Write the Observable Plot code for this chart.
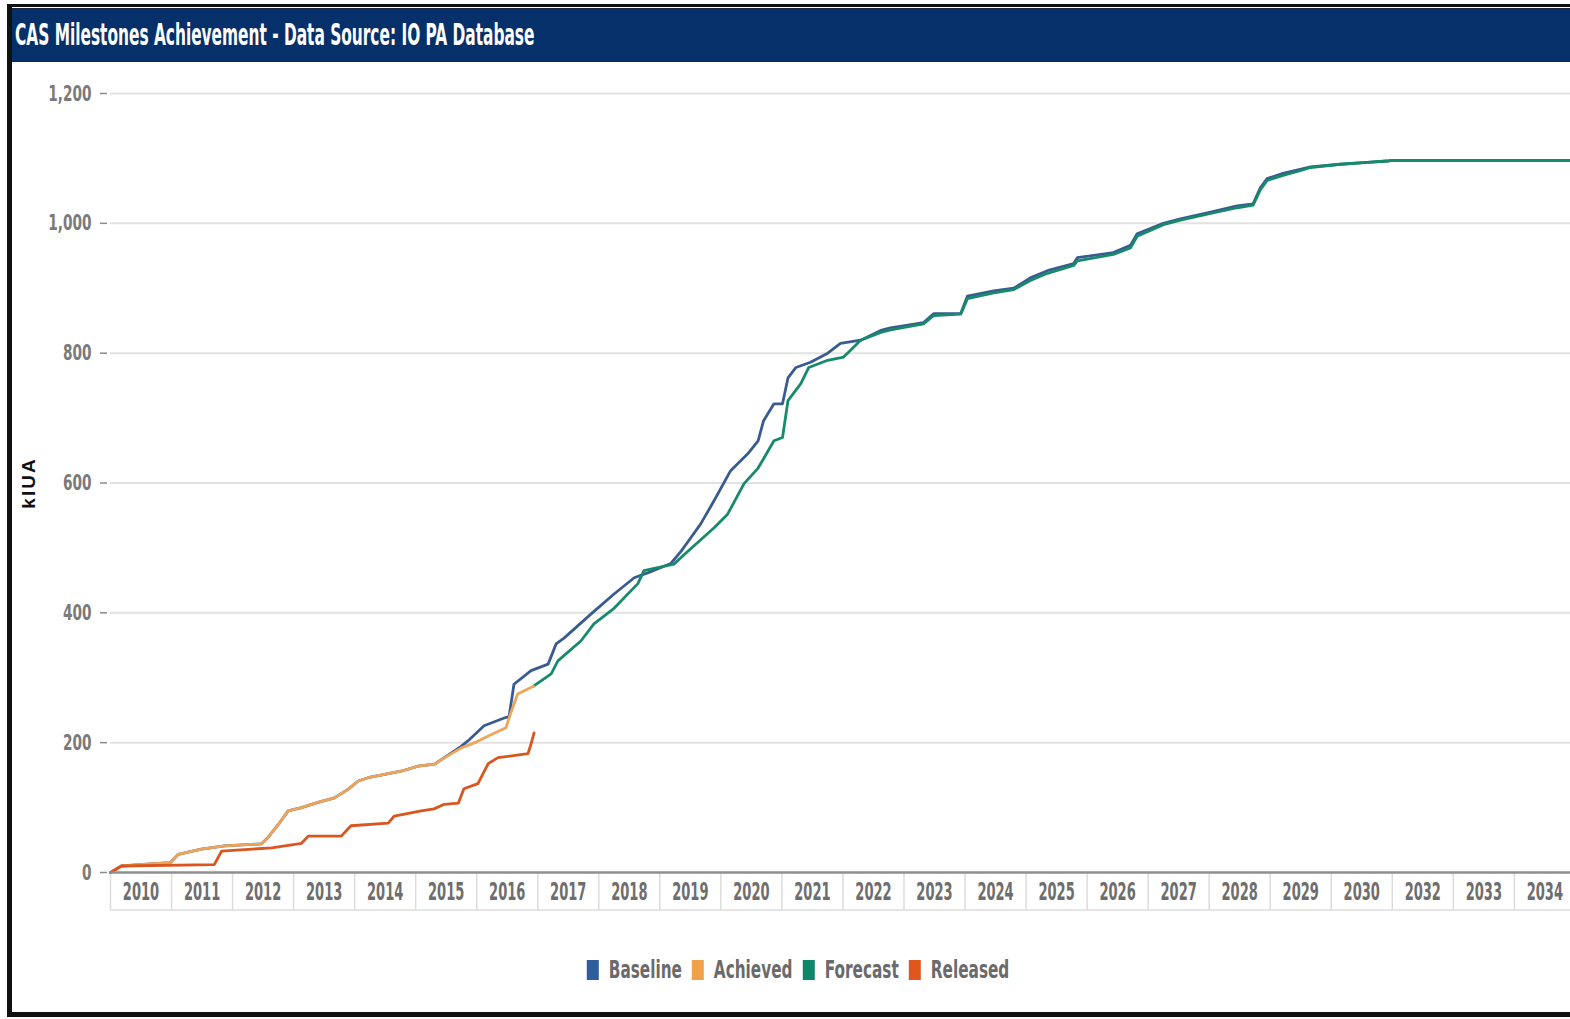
<!DOCTYPE html>
<html>
<head>
<meta charset="utf-8">
<script src="https://cdn.jsdelivr.net/npm/d3@7"></script>
<script src="https://cdn.jsdelivr.net/npm/@observablehq/plot@0.6"></script>
<style>
  html, body { margin: 0; padding: 0; background: #fff; overflow: hidden; width: 1570px; height: 1019px; }
  #frame { position: absolute; left: 7px; top: 4px; width: 1563px; height: 1013px; box-sizing: border-box;
           border-left: 5px solid #111; border-top: 3px solid #111; border-bottom: 5px solid #111; }
  #header { position: absolute; left: 12px; top: 8px; width: 1558px; height: 54px; background: #06306a;
            border-top: 1px solid #1b2540; border-bottom: 1px solid #1b2540; box-sizing: border-box; }
  #title { position: absolute; left: 3px; top: 0; line-height: 52px; color: #fff; font-weight: bold; font-size: 30px;
           font-family: "Liberation Sans Narrow", "DejaVu Sans Condensed", "Liberation Sans", sans-serif;
           white-space: nowrap; transform: scaleX(0.57); transform-origin: left center; display: inline-block; }
  #chart { position: absolute; left: 0; top: 62px; }
  #ylabel { position: absolute; left: 29px; top: 483px; transform: translate(-50%, -50%) rotate(-90deg);
            font: bold 19px "Liberation Sans", Arial, sans-serif; letter-spacing: 2px; color: #111; white-space: nowrap; }
  #legend { position: absolute; top: 955px; left: 798px; transform: translateX(-50%); display: flex; align-items: center;
            gap: 10px; font-family: "Liberation Sans Narrow", "DejaVu Sans Condensed", sans-serif; font-size: 25px; color: #6a6a6a; font-weight: bold; white-space: nowrap; }
  .item { display: flex; align-items: center; gap: 10px; }
  .sw { width: 12px; height: 20px; display: inline-block; }
  .lt { display: inline-block; overflow: visible; white-space: nowrap; }
  .lt span { display: inline-block; transform-origin: left center; }
</style>
</head>
<body>
<div id="frame"></div>
<div id="header"><span id="title">CAS Milestones Achievement - Data Source: IO PA Database</span></div>
<div id="chart"></div>
<div id="ylabel">kIUA</div>
<div id="legend"></div>
<script>
// ---- Data (decimal year, kIUA) ----
const yearLabels = [2010, 2011, 2012, 2013, 2014, 2015, 2016, 2017, 2018, 2019, 2020, 2021, 2022, 2023, 2024, 2025, 2026, 2027, 2028, 2029, 2030, 2032, 2033, 2034];
const yTicks = [0, 200, 400, 600, 800, 1000, 1200];
const seriesNames = ["Baseline", "Achieved", "Forecast", "Released"];
const seriesColors = ["#3a5b90", "#eea55a", "#168b6b", "#d9561f"];
const legendColors = ["#2f5c9c", "#f0a24a", "#0f876a", "#e0561c"];

const baseline = [
  [2010.00, 0], [2010.18, 10], [2010.60, 13], [2010.98, 15], [2011.11, 28], [2011.49, 36], [2011.87, 41],
  [2012.47, 44], [2012.58, 54], [2012.75, 74], [2012.91, 95], [2013.13, 100], [2013.40, 108], [2013.67, 115],
  [2013.89, 128], [2014.06, 141], [2014.22, 146], [2014.49, 151], [2014.76, 156], [2015.04, 164], [2015.31, 167],
  [2015.74, 194], [2015.86, 203], [2016.12, 226], [2016.45, 238], [2016.53, 240], [2016.61, 290], [2016.89, 311],
  [2017.17, 321], [2017.30, 352], [2017.43, 361], [2017.87, 398], [2018.25, 429], [2018.58, 454], [2018.81, 462],
  [2019.18, 476], [2019.35, 495], [2019.51, 516], [2019.67, 537], [2019.89, 573], [2020.16, 619], [2020.44, 645],
  [2020.61, 665], [2020.70, 696], [2020.87, 722], [2021.01, 722], [2021.10, 762], [2021.23, 778], [2021.47, 786],
  [2021.75, 800], [2021.96, 815], [2022.29, 820], [2022.62, 835], [2022.78, 839], [2023.32, 847], [2023.49, 861],
  [2023.93, 861], [2024.04, 888], [2024.47, 896], [2024.80, 900], [2025.07, 916], [2025.35, 927], [2025.78, 938],
  [2025.84, 947], [2026.43, 955], [2026.71, 966], [2026.82, 984], [2027.25, 1000], [2027.53, 1007], [2027.97, 1016],
  [2028.46, 1027], [2028.72, 1030], [2028.84, 1055], [2028.95, 1069], [2029.21, 1077], [2029.49, 1083], [2029.66, 1087],
  [2030.15, 1091], [2030.59, 1094], [2030.92, 1096], [2032.00, 1097], [2034.99, 1097]
];

const achieved = [
  [2010.00, 0], [2010.18, 10], [2010.60, 13], [2010.98, 15], [2011.11, 28], [2011.49, 36], [2011.87, 41],
  [2012.47, 44], [2012.58, 54], [2012.75, 74], [2012.91, 95], [2013.13, 100], [2013.40, 108], [2013.67, 115],
  [2013.89, 128], [2014.06, 141], [2014.22, 146], [2014.49, 151], [2014.76, 156], [2015.04, 164], [2015.31, 167],
  [2015.53, 180], [2015.75, 192], [2015.97, 200], [2016.18, 210], [2016.48, 223], [2016.54, 241], [2016.67, 275],
  [2016.93, 287]
];

const forecast = [
  [2016.93, 287], [2017.22, 306], [2017.33, 326], [2017.71, 357], [2017.92, 383], [2018.25, 407], [2018.64, 445],
  [2018.74, 465], [2019.23, 475], [2019.46, 495], [2019.89, 531], [2020.11, 552], [2020.38, 599], [2020.61, 623],
  [2020.87, 665], [2021.01, 670], [2021.10, 727], [2021.31, 753], [2021.44, 778], [2021.75, 789], [2022.01, 794],
  [2022.13, 805], [2022.29, 820], [2022.62, 832], [2022.78, 836], [2023.32, 845], [2023.49, 858], [2023.93, 860],
  [2024.04, 884], [2024.47, 893], [2024.80, 898], [2025.07, 912], [2025.35, 923], [2025.78, 935], [2025.84, 942],
  [2026.43, 952], [2026.71, 962], [2026.82, 980], [2027.25, 998], [2027.53, 1005], [2027.97, 1014], [2028.46, 1024],
  [2028.72, 1028], [2028.84, 1052], [2028.95, 1066], [2029.21, 1074], [2029.49, 1081], [2029.66, 1086],
  [2030.15, 1091], [2030.59, 1094], [2030.92, 1096], [2032.00, 1097], [2034.99, 1097]
];

const released = [
  [2010.00, 0], [2010.18, 10], [2011.70, 12], [2011.82, 33], [2012.64, 38], [2013.13, 45], [2013.24, 56],
  [2013.78, 56], [2013.94, 72], [2014.55, 76], [2014.65, 87], [2015.09, 95], [2015.30, 98], [2015.47, 105],
  [2015.70, 107], [2015.79, 129], [2016.02, 137], [2016.19, 168], [2016.35, 177], [2016.84, 183], [2016.89, 198],
  [2016.94, 215]
];

// ---- Build table ----
// position on the band axis: index of the year's band + fraction of the year
function bandPos(yr) {
  const y = Math.floor(yr);
  return yearLabels.indexOf(y) + (yr - y);
}
const seriesData = [baseline, achieved, forecast, released];
const rows = [];
seriesData.forEach((arr, k) => arr.forEach(([t, v]) => rows.push({series: seriesNames[k], pos: bandPos(t), value: v})));

const FONT = '"Liberation Sans Narrow", "DejaVu Sans Condensed", "Liberation Sans", sans-serif';
const nBands = yearLabels.length;
const xMax = 23.92;

const chart = Plot.plot({
  width: 1570,
  height: 870,
  marginLeft: 110,
  marginRight: 0,
  marginTop: 31,
  marginBottom: 60,
  style: {fontFamily: FONT, background: "transparent", overflow: "visible"},
  x: {type: "linear", domain: [0, xMax]},
  y: {domain: [0, 1200]},
  color: {domain: seriesNames, range: seriesColors},
  marks: [
    Plot.gridY(yTicks.slice(1), {stroke: "#e2e2e2", strokeOpacity: 1, strokeWidth: 2}),
    Plot.axisY(yTicks, {tickFormat: d3.format(","), tickSize: 7, tickPadding: 9, dx: -3, fontSize: 22,
      fontWeight: "bold", color: "#7a7a7a", stroke: "#8a8a8a", strokeWidth: 1.5, label: null}),
    Plot.axisX(d3.range(0, nBands + 1), {tickSize: 38, tickFormat: () => "", stroke: "#dcdcdc", strokeWidth: 1.5, label: null}),
    Plot.axisX(d3.range(0, nBands).map(i => i + 0.5), {tickSize: 0, tickPadding: 10, fontSize: 25, fontWeight: "bold",
      color: "#6e6e6e", tickFormat: i => String(yearLabels[Math.floor(i)]), label: null}),
    Plot.line(rows.filter(d => d.series === "Baseline"), {x: "pos", y: "value", stroke: "series", strokeWidth: 2.8, strokeLinejoin: "round"}),
    Plot.line(rows.filter(d => d.series === "Forecast"), {x: "pos", y: "value", stroke: "series", strokeWidth: 2.8, strokeLinejoin: "round"}),
    Plot.line(rows.filter(d => d.series === "Achieved"), {x: "pos", y: "value", stroke: "series", strokeWidth: 2.8, strokeLinejoin: "round"}),
    Plot.line(rows.filter(d => d.series === "Released"), {x: "pos", y: "value", stroke: "series", strokeWidth: 2.8, strokeLinejoin: "round"}),
    Plot.ruleY([0], {stroke: "#8f8f8f", strokeWidth: 2.5})
  ]
});

document.getElementById("chart").appendChild(chart);

// bottom border of the year cells, from the scales
const xs = chart.scale("x"), ys = chart.scale("y");
d3.select(chart).append("line")
  .attr("x1", xs.apply(0)).attr("x2", xs.apply(xMax))
  .attr("y1", ys.apply(0) + 38).attr("y2", ys.apply(0) + 38)
  .attr("stroke", "#dcdcdc").attr("stroke-width", 1.5);

// condense tick labels (narrow typeface look)
function condense(sel, k) {
  d3.select(chart).selectAll(sel).each(function() {
    const w = this.getComputedTextLength();
    this.setAttribute("textLength", w * k);
    this.setAttribute("lengthAdjust", "spacingAndGlyphs");
  });
}
condense('g[aria-label="x-axis tick label"] text', 0.58);
condense('g[aria-label="y-axis tick label"] text', 0.69);

// legend
const K = 0.68;
const legend = d3.select("#legend");
seriesNames.forEach((name, i) => {
  const it = legend.append("div").attr("class", "item");
  it.append("span").attr("class", "sw").style("background", legendColors[i]);
  const box = it.append("span").attr("class", "lt");
  const inner = box.append("span").text(name);
  const w = inner.node().getBoundingClientRect().width;
  box.style("width", (w * K) + "px");
  inner.style("transform", `scaleX(${K})`);
});
</script>
</body>
</html>
